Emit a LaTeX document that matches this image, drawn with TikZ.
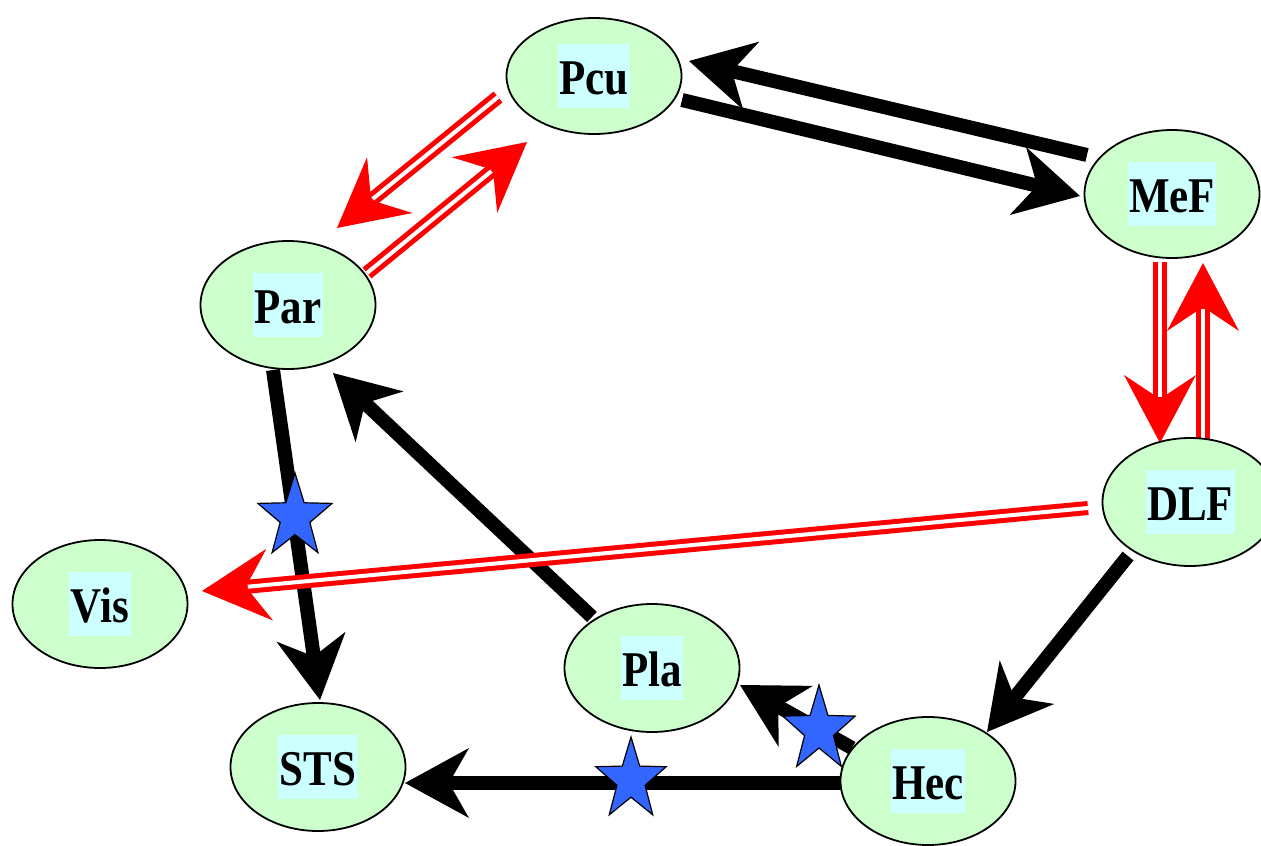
\documentclass[tikz,border=0pt]{standalone}
\usepackage{fontspec}
\newfontfamily\lblfont{Liberation Serif}[FakeStretch=0.86]
\usetikzlibrary{shapes.geometric,arrows.meta,calc,backgrounds}
\definecolor{nodegreen}{HTML}{CCFFCC}
\definecolor{labelcyan}{HTML}{CCFFFF}
\definecolor{starblue}{HTML}{3366FF}
\newcommand\lbltext[1]{{\setlength\fboxsep{1.5pt}\colorbox{labelcyan}{\rule[-12pt]{0pt}{61pt}#1}}}
\tikzset{
  stnode/.style={ellipse, draw=black, line width=1.8pt, fill=nodegreen,
    minimum width=175pt, minimum height=128pt, inner sep=0pt,
    font=\lblfont\bfseries\fontsize{50}{55}\selectfont},
  blkarrow/.style={draw=black, line width=14pt,
    -{Stealth[length=64pt,width=70pt,inset=20pt,line width=0pt]}},
  redarrow/.style={draw=red, line width=14pt,
    -{Stealth[length=68pt,width=72pt,inset=24pt,line width=0pt]},
    postaction={draw=white, line width=4pt, -, shorten >=46pt}},
  pics/bluestar/.style={code={
    \draw[fill=starblue, line width=1.2pt, line join=miter]
      (90:1) -- (126:0.4) -- (162:1) -- (198:0.4) -- (234:1) -- (270:0.4)
      -- (306:1) -- (342:0.4) -- (18:1) -- (54:0.4) -- cycle;}}
}
\begin{document}
\begin{tikzpicture}[x=1pt,y=-1pt]
\useasboundingbox (0,0) rectangle (1261,846);
\node[stnode, minimum height=116pt] (Pcu) at (594,76) {\lbltext{Pcu}};
\node[stnode] (MeF) at (1172,194) {\lbltext{MeF}};
\node[stnode] (Par) at (288,305) {\lbltext{Par}};
\node[stnode] (DLF) at (1190,502) {\lbltext{DLF}};
\node[stnode] (Vis) at (100,604) {\lbltext{Vis}};
\node[stnode] (Pla) at (652,668) {\lbltext{Pla}};
\node[stnode] (STS) at (318,767) {\lbltext{STS}};
\node[stnode] (Hec) at (928,781) {\lbltext{Hec}};
\begin{scope}[on background layer]
\fill[white] (0,0) rectangle (1261,846);
\draw[blkarrow] ($(MeF)+(-85,-39)$) -- ($(Pcu)+(95,-15)$);
\draw[blkarrow] ($(Pcu)+(88,24)$) -- ($(MeF)+(-92,2)$);
\draw[blkarrow] ($(Par)+(-15,65)$) -- ($(STS)+(2,-67)$);
\draw[blkarrow] ($(Pla)+(-60,-51)$) -- ($(Par)+(45,68)$);
\draw[blkarrow] ($(DLF)+(-62,54)$) -- ($(Hec)+(59,-49)$);
\draw[blkarrow] ($(Hec)+(-76,-33)$) -- ($(Pla)+(88,17)$);
\draw[blkarrow] ($(Hec)+(-86,2)$) -- ($(STS)+(87,16)$);
\draw[redarrow] ($(Pcu)+(-96,21)$) -- ($(Par)+(49,-77)$);
\draw[redarrow] ($(Par)+(79,-32)$) -- ($(Pcu)+(-67,66)$);
\draw[redarrow] ($(MeF)+(-12,68)$) -- ($(DLF)+(-30,-59)$);
\draw[redarrow] ($(DLF)+(13,-59)$) -- ($(MeF)+(31,69)$);
\draw[redarrow] ($(DLF)+(-102,6)$) -- ($(Vis)+(102,-13)$);
\pic[xscale=39, yscale=-44] at (295,517) {bluestar};
\pic[xscale=38, yscale=-45] at (819,730) {bluestar};
\pic[xscale=37, yscale=-43] at (631,780) {bluestar};
\end{scope}
\end{tikzpicture}
\end{document}
